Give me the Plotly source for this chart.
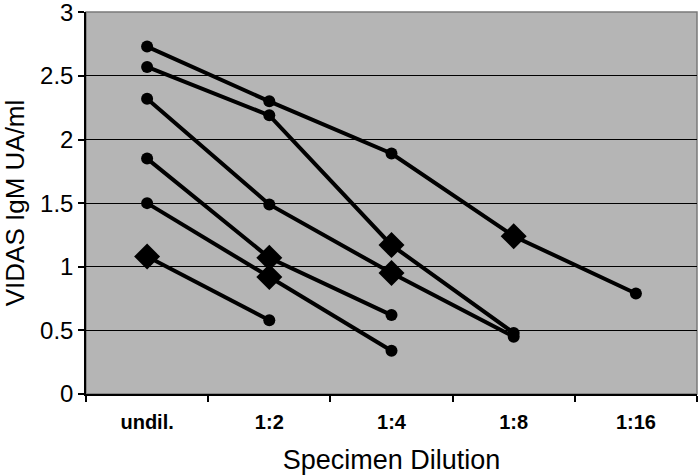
import plotly.graph_objects as go

categories = ["undil.", "1:2", "1:4", "1:8", "1:16"]

s1 = [2.73, 2.30, 1.89, 1.24, 0.79]
s1_sym = ["circle", "circle", "circle", "diamond", "circle"]
s2 = [2.57, 2.19, 1.17, 0.48]
s2_sym = ["circle", "circle", "diamond", "circle"]
s3 = [2.32, 1.49, 0.95, 0.45]
s3_sym = ["circle", "circle", "diamond", "circle"]
s4 = [1.85, 1.07, 0.62]
s4_sym = ["circle", "diamond", "circle"]
s5 = [1.50, 0.92, 0.34]
s5_sym = ["circle", "diamond", "circle"]
s6 = [1.08, 0.58]
s6_sym = ["diamond", "circle"]

series = [(s1, s1_sym), (s2, s2_sym), (s3, s3_sym), (s4, s4_sym), (s5, s5_sym), (s6, s6_sym)]

FONT = "Liberation Sans, Arial, sans-serif"

fig = go.Figure()
for vals, syms in series:
    sizes = [20 if s == "diamond" else 12 for s in syms]
    fig.add_trace(go.Scatter(
        x=categories[:len(vals)], y=vals, mode="lines+markers",
        line=dict(color="black", width=4),
        marker=dict(symbol=syms, size=sizes, color="black", opacity=1,
                    line=dict(width=0, color="black")),
        showlegend=False,
    ))

fig.add_shape(type="rect", xref="paper", yref="paper", x0=0, y0=0, x1=1, y1=1,
              line=dict(color="#7a7a7a", width=1.5), layer="below")

fig.update_layout(
    width=700, height=475,
    margin=dict(l=86, r=3, t=12, b=81),
    paper_bgcolor="white",
    plot_bgcolor="#b5b5b5",
    font=dict(family=FONT, color="black"),
)
fig.update_xaxes(
    type="category", categoryorder="array", categoryarray=categories,
    range=[-0.5, 4.5], automargin=False,
    tickson="boundaries", ticks="outside", ticklen=6, tickcolor="black", tickwidth=1.5,
    showline=True, linecolor="black", linewidth=1.5,
    showgrid=False,
    tickfont=dict(size=20, family=FONT, weight="bold"),
    ticklabelstandoff=9,
    title=dict(text="Specimen Dilution", font=dict(size=27), standoff=19),
)
fig.update_yaxes(
    range=[0, 3.002], tickvals=[0, 0.5, 1, 1.5, 2, 2.5, 3],
    ticktext=["0", "0.5", "1", "1.5", "2", "2.5", "3"],
    automargin=False, ticklabeloverflow="allow",
    ticks="outside", ticklen=6, tickcolor="black", tickwidth=1.5,
    showline=True, linecolor="black", linewidth=1.5,
    showgrid=True, gridcolor="black", gridwidth=1,
    zeroline=False,
    tickfont=dict(size=24),
    ticklabelstandoff=0,
    title=dict(text="VIDAS IgM UA/ml", font=dict(size=26), standoff=15),
)

fig.write_html("out.html", config={"displayModeBar": False},
               post_script="document.body.style.margin='0';document.documentElement.style.overflow='hidden';")
